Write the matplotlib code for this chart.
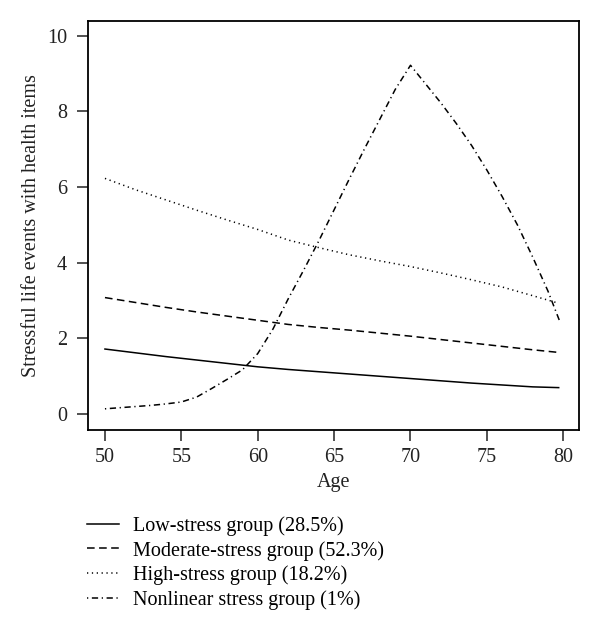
import matplotlib
matplotlib.use("Agg")
import matplotlib.pyplot as plt

# ---- data ----
ages_grp = [50, 52, 54, 56, 58, 60, 62, 64, 66, 68, 70, 72, 74, 76, 78, 79.7]
low_stress = [1.72, 1.62, 1.52, 1.43, 1.34, 1.25, 1.18, 1.12, 1.06, 1.00, 0.94, 0.88, 0.82, 0.77, 0.72, 0.70]
moderate_stress = [3.08, 2.95, 2.82, 2.70, 2.59, 2.48, 2.37, 2.29, 2.22, 2.14, 2.06, 1.97, 1.88, 1.79, 1.70, 1.63]
high_stress = [6.23, 5.93, 5.66, 5.39, 5.13, 4.88, 4.60, 4.40, 4.21, 4.05, 3.90, 3.73, 3.55, 3.36, 3.13, 2.93]

ages_nl = [50, 51, 52, 53, 54, 55, 56, 57, 58, 59, 60, 61, 62, 63, 64, 65, 66, 67, 68, 69, 70,
           71, 72, 73, 74, 75, 76, 77, 78, 79, 79.8]
nonlinear_stress = [0.14, 0.17, 0.20, 0.23, 0.27, 0.32, 0.45, 0.68, 0.92, 1.17, 1.60, 2.25, 3.05,
                    3.80, 4.58, 5.40, 6.22, 7.02, 7.80, 8.58, 9.22, 8.72, 8.22, 7.68, 7.10, 6.45,
                    5.75, 5.00, 4.15, 3.25, 2.42]

labels = ["Low-stress group (28.5%)", "Moderate-stress group (52.3%)",
          "High-stress group (18.2%)", "Nonlinear stress group (1%)"]
x_ticks = [50, 55, 60, 65, 70, 75, 80]
y_ticks = [0, 2, 4, 6, 8, 10]

plt.rcParams['font.family'] = ['Liberation Serif', 'DejaVu Serif']
plt.rcParams['lines.scale_dashes'] = False

W, H = 600, 630
FS = 14.5
fig = plt.figure(figsize=(W / 100, H / 100), dpi=100)
ax = fig.add_axes([88 / W, 1 - 430 / H, (579 - 88) / W, (430 - 21) / H])

lw = 1.1
ax.plot(ages_grp, low_stress, color='black', lw=lw, linestyle='-', label=labels[0])
ax.plot(ages_grp, moderate_stress, color='black', lw=lw, linestyle=(0, (5.5, 3.2)), label=labels[1])
ax.plot(ages_grp, high_stress, color='black', lw=lw, linestyle=(0, (0.9, 2.6)), label=labels[2])
ax.plot(ages_nl, nonlinear_stress, color='black', lw=lw, linestyle=(0, (0.9, 2.6, 4.5, 2.6)), label=labels[3])

ax.set_xlim(48.89, 81.03)
ax.set_ylim(-0.42, 10.39)
ax.set_xticks(x_ticks)
ax.set_yticks(y_ticks)
ax.tick_params(direction='out', length=8, width=1.1, labelsize=FS, pad=5, colors='#222222')
ax.tick_params(axis='y', pad=7)
for s in ax.spines.values():
    s.set_linewidth(1.3)
ax.set_xlabel("Age", fontsize=FS, labelpad=4, color='#222222')
ax.set_ylabel("Stressful life events with health items", fontsize=FS, labelpad=4, color='#222222')

fig.legend(loc='upper left', bbox_to_anchor=(87 / W, 1 - 516 / H), frameon=False,
           fontsize=FS, handlelength=1.6, handletextpad=0.7, labelspacing=0.25,
           borderaxespad=0, borderpad=0)

fig.savefig("out.png", dpi=100)
